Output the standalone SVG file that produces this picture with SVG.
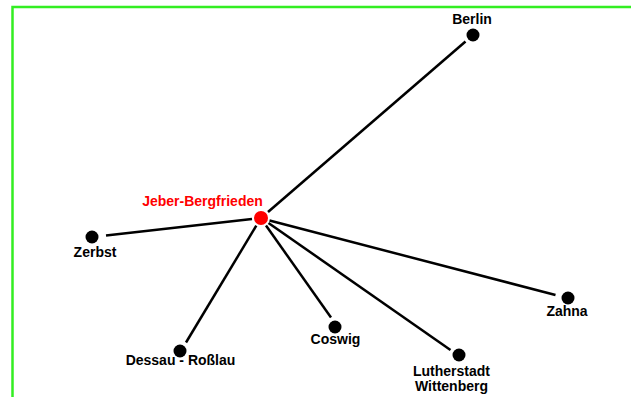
<svg xmlns="http://www.w3.org/2000/svg" width="631" height="397" viewBox="0 0 631 397">
<style>
.lbl{font-family:"Liberation Sans",Arial,sans-serif;font-weight:bold;font-size:14px;fill:#000;text-anchor:middle}
.red{fill:#ff0000}
.edge{stroke:#000;stroke-width:2.5;fill:none}
.dot{fill:#000}
</style>
<rect x="0" y="0" width="631" height="397" fill="#fff"/>
<rect x="12.5" y="7" width="700" height="500" fill="none" stroke="#33ee22" stroke-width="2.5"/>
<g id="connectors">
<line class="edge" x1="268" y1="212" x2="465.5" y2="41.5"/>
<line class="edge" x1="252" y1="219" x2="106" y2="235.4"/>
<line class="edge" x1="256.3" y1="225.7" x2="186" y2="342.5"/>
<line class="edge" x1="266" y1="225.5" x2="331" y2="317.5"/>
<line class="edge" x1="268.5" y1="223" x2="450.5" y2="350"/>
<line class="edge" x1="269.5" y1="220.5" x2="555.5" y2="295"/>
</g>
<g id="berlin"><circle class="dot" cx="473" cy="35" r="6.5"/><text class="lbl" x="472" y="24">Berlin</text></g>
<g id="jeber"><circle cx="261" cy="218" r="7" fill="#ff0000"/><text class="lbl red" x="202.5" y="206">Jeber-Bergfrieden</text></g>
<g id="zerbst"><circle class="dot" cx="92" cy="237" r="6.5"/><text class="lbl" x="95" y="257">Zerbst</text></g>
<g id="dessau"><circle class="dot" cx="180" cy="351" r="6.5"/><text class="lbl" x="180.5" y="365">Dessau - Roßlau</text></g>
<g id="coswig"><circle class="dot" cx="335" cy="327" r="6.5"/><text class="lbl" x="335.5" y="344">Coswig</text></g>
<g id="wittenberg"><circle class="dot" cx="459" cy="355" r="6.5"/><text class="lbl" x="451.5" y="376">Lutherstadt</text><text class="lbl" x="451.5" y="391">Wittenberg</text></g>
<g id="zahna"><circle class="dot" cx="568" cy="298" r="6.5"/><text class="lbl" x="567" y="316">Zahna</text></g>
</svg>
